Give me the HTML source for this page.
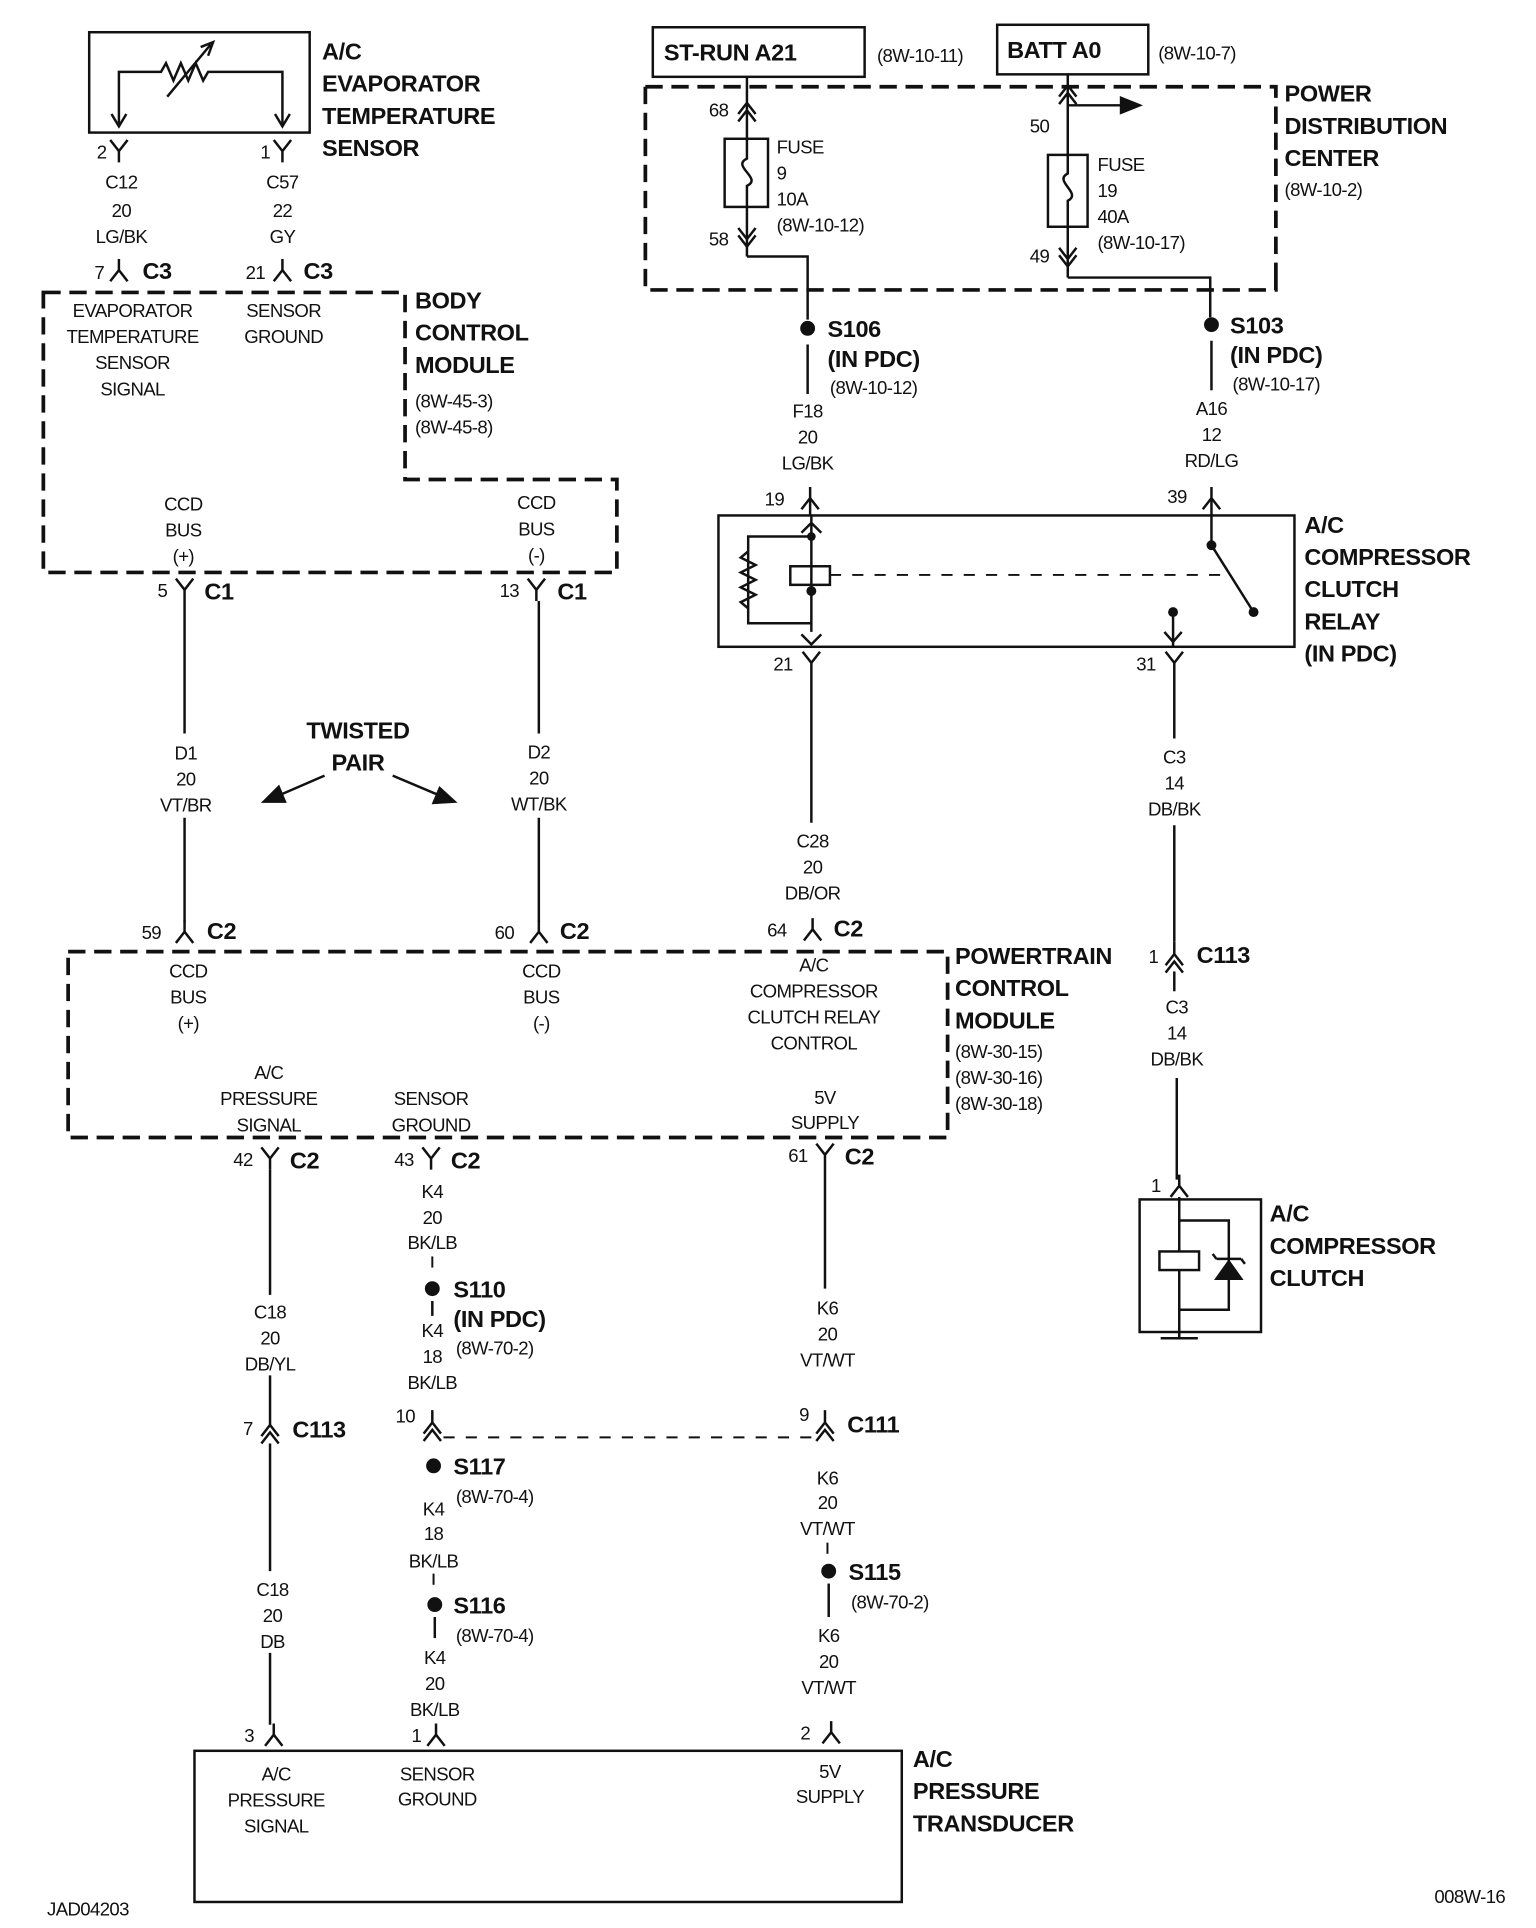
<!DOCTYPE html>
<html><head><meta charset="utf-8"><style>
html,body{margin:0;padding:0;background:#fff;}
svg{display:block}
text{font-family:"Liberation Sans",Arial,sans-serif;font-size:15px;fill:#111;text-anchor:middle;letter-spacing:-0.5px}
.b{font-weight:bold;font-size:19px;text-anchor:start;letter-spacing:-0.3px}
.bm{font-weight:bold;font-size:19px;letter-spacing:-0.3px}
.l{text-anchor:start}
.r{text-anchor:end}
path,line,rect,polyline{stroke:#111;fill:none;stroke-width:2}
.d{stroke-dasharray:14 7;stroke-width:3}
.dt{stroke-dasharray:9 9;stroke-width:1.6}
</style></head><body>
<svg width="1536" height="1928" viewBox="0 0 1240 1556" preserveAspectRatio="none" xmlns="http://www.w3.org/2000/svg">
<defs>
<g id="Y"><path d="M-7,-9 L0,0 L7,-9 M0,0 L0,9"/></g>
<g id="A"><path d="M-7,9 L0,0 L7,9 M0,0 L0,-9"/></g>
<g id="AA"><path d="M-7,7 L0,-2 L7,7 M-7,13 L0,4 L7,13 M0,-2 L0,-12"/></g>
<g id="YY"><path d="M-7,-7 L0,2 L7,-7 M-7,-13 L0,-4 L7,-13 M0,2 L0,12"/></g>
</defs>

<!-- Evaporator sensor -->
<rect x="72" y="26" width="178" height="81" stroke-width="3"/>
<path d="M96,100 L96,58 L130,58 l4,-7 l6,14 l6,-14 l6,14 l6,-14 l6,14 l4,-7 L228,58 L228,100"/>
<path d="M90,92 L96,102 L102,92 M222,92 L228,102 L234,92"/>
<path d="M135,78 L170,36 M162,38 L172,34 L168,45"/>
<text class="b" x="260" y="48">A/C</text>
<text class="b" x="260" y="74">EVAPORATOR</text>
<text class="b" x="260" y="100">TEMPERATURE</text>
<text class="b" x="260" y="126">SENSOR</text>
<use href="#Y" x="96" y="122"/><text class="r" x="86" y="128">2</text>
<use href="#Y" x="228" y="122"/><text class="r" x="218" y="128">1</text>
<text x="98" y="152">C12</text><text x="98" y="175">20</text><text x="98" y="196">LG/BK</text>
<text x="228" y="152">C57</text><text x="228" y="175">22</text><text x="228" y="196">GY</text>
<use href="#A" x="96" y="218"/><text class="r" x="84" y="225">7</text><text class="b" x="115" y="225">C3</text>
<use href="#A" x="228" y="218"/><text class="r" x="214" y="225">21</text><text class="b" x="245" y="225">C3</text>

<!-- BCM -->
<path class="d" d="M35,236 L327,236 L327,387 L498,387 L498,462 L35,462 Z"/>
<text x="107" y="256">EVAPORATOR</text><text x="107" y="277">TEMPERATURE</text><text x="107" y="298">SENSOR</text><text x="107" y="319">SIGNAL</text>
<text x="229" y="256">SENSOR</text><text x="229" y="277">GROUND</text>
<text class="b" x="335" y="249">BODY</text><text class="b" x="335" y="275">CONTROL</text><text class="b" x="335" y="301">MODULE</text>
<text class="l" x="335" y="329">(8W-45-3)</text><text class="l" x="335" y="350">(8W-45-8)</text>
<text x="148" y="412">CCD</text><text x="148" y="433">BUS</text><text x="148" y="454">(+)</text>
<text x="433" y="411">CCD</text><text x="433" y="432">BUS</text><text x="433" y="453">(-)</text>
<use href="#Y" x="149" y="476"/><text class="r" x="135" y="482">5</text><text class="b" x="165" y="484">C1</text>
<use href="#Y" x="433" y="476"/><text class="r" x="419" y="482">13</text><text class="b" x="450" y="484">C1</text>
<line x1="149" y1="485" x2="149" y2="592"/><line x1="149" y1="660" x2="149" y2="744"/>
<line x1="435" y1="485" x2="435" y2="592"/><line x1="435" y1="660" x2="435" y2="744"/>
<text x="150" y="613">D1</text><text x="150" y="634">20</text><text x="150" y="655">VT/BR</text>
<text x="435" y="612">D2</text><text x="435" y="633">20</text><text x="435" y="654">WT/BK</text>
<text class="bm" x="289" y="596">TWISTED</text><text class="bm" x="289" y="622">PAIR</text>
<path d="M262,626 L218,645 M317,626 L362,645" stroke-width="2.5"/>
<path d="M213,647 L225,635 L230,647 Z M367,647 L350,648 L355,636 Z" style="fill:#111"/>
<use href="#A" x="149" y="752"/><text class="r" x="130" y="758">59</text><text class="b" x="167" y="758">C2</text>
<use href="#A" x="435" y="752"/><text class="r" x="415" y="758">60</text><text class="b" x="452" y="758">C2</text>
<use href="#A" x="656" y="750"/><text class="r" x="635" y="756">64</text><text class="b" x="673" y="756">C2</text>

<!-- PCM -->
<path class="d" d="M55,768 L765,768 L765,918 L55,918 Z"/>
<text x="152" y="789">CCD</text><text x="152" y="810">BUS</text><text x="152" y="831">(+)</text>
<text x="437" y="789">CCD</text><text x="437" y="810">BUS</text><text x="437" y="831">(-)</text>
<text x="657" y="784">A/C</text><text x="657" y="805">COMPRESSOR</text><text x="657" y="826">CLUTCH RELAY</text><text x="657" y="847">CONTROL</text>
<text class="b" x="771" y="778">POWERTRAIN</text><text class="b" x="771" y="804">CONTROL</text><text class="b" x="771" y="830">MODULE</text>
<text class="l" x="771" y="854">(8W-30-15)</text><text class="l" x="771" y="875">(8W-30-16)</text><text class="l" x="771" y="896">(8W-30-18)</text>
<text x="217" y="871">A/C</text><text x="217" y="892">PRESSURE</text><text x="217" y="913">SIGNAL</text>
<text x="348" y="892">SENSOR</text><text x="348" y="913">GROUND</text>
<text x="666" y="891">5V</text><text x="666" y="911">SUPPLY</text>
<use href="#Y" x="218" y="935"/><text class="r" x="204" y="941">42</text><text class="b" x="234" y="943">C2</text>
<use href="#Y" x="348" y="935"/><text class="r" x="334" y="941">43</text><text class="b" x="364" y="943">C2</text>
<use href="#Y" x="666" y="932"/><text class="r" x="652" y="938">61</text><text class="b" x="682" y="940">C2</text>

<!-- C18 wire -->
<line x1="218" y1="944" x2="218" y2="1045"/><line x1="218" y1="1110" x2="218" y2="1140"/>
<line x1="218" y1="1165" x2="218" y2="1268"/><line x1="218" y1="1334" x2="218" y2="1392"/>
<text x="218" y="1064">C18</text><text x="218" y="1085">20</text><text x="218" y="1106">DB/YL</text>
<use href="#AA" x="218" y="1152"/><text class="r" x="204" y="1158">7</text><text class="b" x="236" y="1160">C113</text>
<text x="220" y="1288">C18</text><text x="220" y="1309">20</text><text x="220" y="1330">DB</text>
<use href="#A" x="221" y="1400"/><text class="r" x="205" y="1406">3</text>

<!-- K4 wire -->
<text x="349" y="967">K4</text><text x="349" y="988">20</text><text x="349" y="1008">BK/LB</text>
<line x1="349" y1="1014" x2="349" y2="1025" class="dt"/>
<circle cx="349" cy="1040" r="6" fill="#111"/><text class="b" x="366" y="1047">S110</text><text class="b" x="366" y="1071">(IN PDC)</text><text class="l" x="368" y="1093">(8W-70-2)</text>
<line x1="349" y1="1050" x2="349" y2="1062"/>
<text x="349" y="1079">K4</text><text x="349" y="1100">18</text><text x="349" y="1121">BK/LB</text>
<use href="#AA" x="349" y="1150"/><text class="r" x="335" y="1148">10</text>
<line x1="358" y1="1160" x2="660" y2="1160" class="dt"/>
<circle cx="350" cy="1183" r="6" fill="#111"/><text class="b" x="366" y="1190">S117</text><text class="l" x="368" y="1213">(8W-70-4)</text>
<text x="350" y="1223">K4</text><text x="350" y="1243">18</text><text x="350" y="1265">BK/LB</text>
<line x1="350" y1="1270" x2="350" y2="1283" class="dt"/>
<circle cx="351" cy="1295" r="6" fill="#111"/><text class="b" x="366" y="1302">S116</text><text class="l" x="368" y="1325">(8W-70-4)</text>
<line x1="351" y1="1305" x2="351" y2="1322"/>
<text x="351" y="1343">K4</text><text x="351" y="1364">20</text><text x="351" y="1385">BK/LB</text>
<use href="#A" x="352" y="1400"/><text class="r" x="340" y="1406">1</text>

<!-- K6 wire -->
<line x1="666" y1="941" x2="666" y2="1040"/>
<text x="668" y="1061">K6</text><text x="668" y="1082">20</text><text x="668" y="1103">VT/WT</text>
<use href="#AA" x="666" y="1150"/><text class="r" x="653" y="1147">9</text><text class="b" x="684" y="1156">C111</text>
<text x="668" y="1198">K6</text><text x="668" y="1218">20</text><text x="668" y="1239">VT/WT</text>
<line x1="668" y1="1245" x2="668" y2="1256" class="dt"/>
<circle cx="669" cy="1268" r="6" fill="#111"/><text class="b" x="685" y="1275">S115</text><text class="l" x="687" y="1298">(8W-70-2)</text>
<line x1="669" y1="1278" x2="669" y2="1305"/>
<text x="669" y="1325">K6</text><text x="669" y="1346">20</text><text x="669" y="1367">VT/WT</text>
<use href="#A" x="671" y="1398"/><text class="r" x="654" y="1404">2</text>

<!-- Transducer -->
<rect x="157" y="1413" width="571" height="122" stroke-width="3"/>
<text x="223" y="1437">A/C</text><text x="223" y="1458">PRESSURE</text><text x="223" y="1479">SIGNAL</text>
<text x="353" y="1437">SENSOR</text><text x="353" y="1457">GROUND</text>
<text x="670" y="1435">5V</text><text x="670" y="1455">SUPPLY</text>
<text class="b" x="737" y="1426">A/C</text><text class="b" x="737" y="1452">PRESSURE</text><text class="b" x="737" y="1478">TRANSDUCER</text>
<text class="l" x="38" y="1546">JAD04203</text><text class="l" x="1158" y="1536">008W-16</text>

<!-- Top right -->
<rect x="527" y="22" width="171" height="40" stroke-width="3"/><text class="b" x="536" y="49">ST-RUN A21</text>
<text class="l" x="708" y="50">(8W-10-11)</text>
<rect x="805" y="20" width="122" height="40" stroke-width="3"/><text class="b" x="813" y="47">BATT A0</text>
<text class="l" x="935" y="48">(8W-10-7)</text>
<path class="d" d="M521,70 L1030,70 L1030,228 M521,70 L521,234 L1030,234 L1030,220"/>
<text class="b" x="1037" y="82">POWER</text><text class="b" x="1037" y="108">DISTRIBUTION</text><text class="b" x="1037" y="134">CENTER</text>
<text class="l" x="1037" y="158">(8W-10-2)</text>
<line x1="603" y1="62" x2="603" y2="112"/>
<path d="M596,92 L603,83 L610,92 M596,98 L603,89 L610,98"/>
<text class="r" x="588" y="94">68</text>
<rect x="585" y="112" width="35" height="55"/>
<path d="M603,112 L603,128 C590,134 616,144 603,150 L603,167"/>
<line x1="603" y1="167" x2="603" y2="207"/>
<path d="M596,184 L603,193 L610,184 M596,190 L603,199 L610,190"/>
<text class="r" x="588" y="198">58</text>
<text class="l" x="627" y="124">FUSE</text><text class="l" x="627" y="145">9</text><text class="l" x="627" y="166">10A</text><text class="l" x="627" y="187">(8W-10-12)</text>
<polyline points="603,207 652,207 652,258"/>
<line x1="862" y1="60" x2="862" y2="125"/>
<path d="M855,78 L862,69 L869,78 M855,84 L862,75 L869,84"/>
<path d="M862,85 L908,85"/><path d="M920,85 L905,79 L905,91 Z" style="fill:#111"/>
<text class="r" x="847" y="107">50</text>
<rect x="846" y="125" width="32" height="58"/>
<path d="M862,125 L862,140 C850,146 874,156 862,162 L862,183"/>
<line x1="862" y1="183" x2="862" y2="224"/>
<path d="M855,200 L862,209 L869,200 M855,206 L862,215 L869,206"/>
<text class="r" x="847" y="212">49</text>
<text class="l" x="886" y="138">FUSE</text><text class="l" x="886" y="159">19</text><text class="l" x="886" y="180">40A</text><text class="l" x="886" y="201">(8W-10-17)</text>
<polyline points="862,224 977,224 977,256"/>

<circle cx="652" cy="265" r="6" fill="#111"/><text class="b" x="668" y="272">S106</text><text class="b" x="668" y="296">(IN PDC)</text><text class="l" x="670" y="318">(8W-10-12)</text>
<line x1="652" y1="278" x2="652" y2="318"/>
<text x="652" y="337">F18</text><text x="652" y="358">20</text><text x="652" y="379">LG/BK</text>
<use href="#A" x="654" y="402"/><text class="r" x="633" y="408">19</text>
<line x1="654" y1="402" x2="654" y2="416"/>
<circle cx="978" cy="262" r="6" fill="#111"/><text class="b" x="993" y="269">S103</text><text class="b" x="993" y="293">(IN PDC)</text><text class="l" x="995" y="315">(8W-10-17)</text>
<line x1="978" y1="275" x2="978" y2="315"/>
<text x="978" y="335">A16</text><text x="978" y="356">12</text><text x="978" y="377">RD/LG</text>
<use href="#A" x="978" y="402"/><text class="r" x="958" y="406">39</text>
<line x1="978" y1="402" x2="978" y2="440"/>

<!-- Relay -->
<rect x="580" y="416" width="465" height="106" stroke-width="3"/>
<path d="M655,416 L655,510 M647,430 L655,422 L663,430 M647,512 L655,520 L663,512"/>
<polyline points="655,433 604,433 604,503 655,503"/>
<path d="M604,445 l-6,5 l12,6 l-12,6 l12,6 l-12,6 l12,6 l-12,6 l6,5"/>
<rect x="638" y="457" width="32" height="15"/>
<line x1="670" y1="464" x2="990" y2="464" class="dt"/>
<circle cx="655" cy="433" r="3.5" fill="#111"/><circle cx="655" cy="477" r="4" fill="#111"/>
<circle cx="978" cy="440" r="4" fill="#111"/><line x1="978" y1="440" x2="1012" y2="494"/>
<circle cx="1012" cy="494" r="4" fill="#111"/>
<circle cx="947" cy="494" r="4" fill="#111"/><line x1="947" y1="494" x2="947" y2="522"/>
<path d="M940,510 L947,518 L954,510"/>
<text class="b" x="1053" y="430">A/C</text><text class="b" x="1053" y="456">COMPRESSOR</text><text class="b" x="1053" y="482">CLUTCH</text><text class="b" x="1053" y="508">RELAY</text><text class="b" x="1053" y="534">(IN PDC)</text>
<use href="#Y" x="655" y="535"/><text class="r" x="640" y="541">21</text>
<use href="#Y" x="948" y="535"/><text class="r" x="933" y="541">31</text>
<line x1="655" y1="544" x2="655" y2="664"/>
<text x="656" y="684">C28</text><text x="656" y="705">20</text><text x="656" y="726">DB/OR</text>
<line x1="948" y1="544" x2="948" y2="596"/>
<text x="948" y="616">C3</text><text x="948" y="637">14</text><text x="948" y="658">DB/BK</text>
<line x1="948" y1="666" x2="948" y2="760"/>
<use href="#AA" x="948" y="772"/><text class="r" x="935" y="777">1</text><text class="b" x="966" y="777">C113</text>
<line x1="948" y1="784" x2="948" y2="800"/>
<text x="950" y="818">C3</text><text x="950" y="839">14</text><text x="950" y="860">DB/BK</text>
<line x1="950" y1="870" x2="950" y2="952"/>
<use href="#A" x="952" y="957"/><text class="r" x="937" y="962">1</text>

<!-- Clutch -->
<rect x="920" y="968" width="98" height="107" stroke-width="3"/>
<polyline points="952,966 952,985 992,985 992,1057 952,1057 952,985"/>
<rect x="936" y="1010" width="32" height="15" style="fill:#fff"/>
<path d="M982,1032 L1002,1032 L992,1018 Z" style="fill:#111"/><path d="M982,1016 L1002,1016 M982,1016 l-3,-4 M1002,1016 l3,4"/>
<path d="M952,1057 L952,1080 M937,1080 L967,1080" stroke-width="3"/>
<text class="b" x="1025" y="986">A/C</text><text class="b" x="1025" y="1012">COMPRESSOR</text><text class="b" x="1025" y="1038">CLUTCH</text>
</svg>
</body></html>
